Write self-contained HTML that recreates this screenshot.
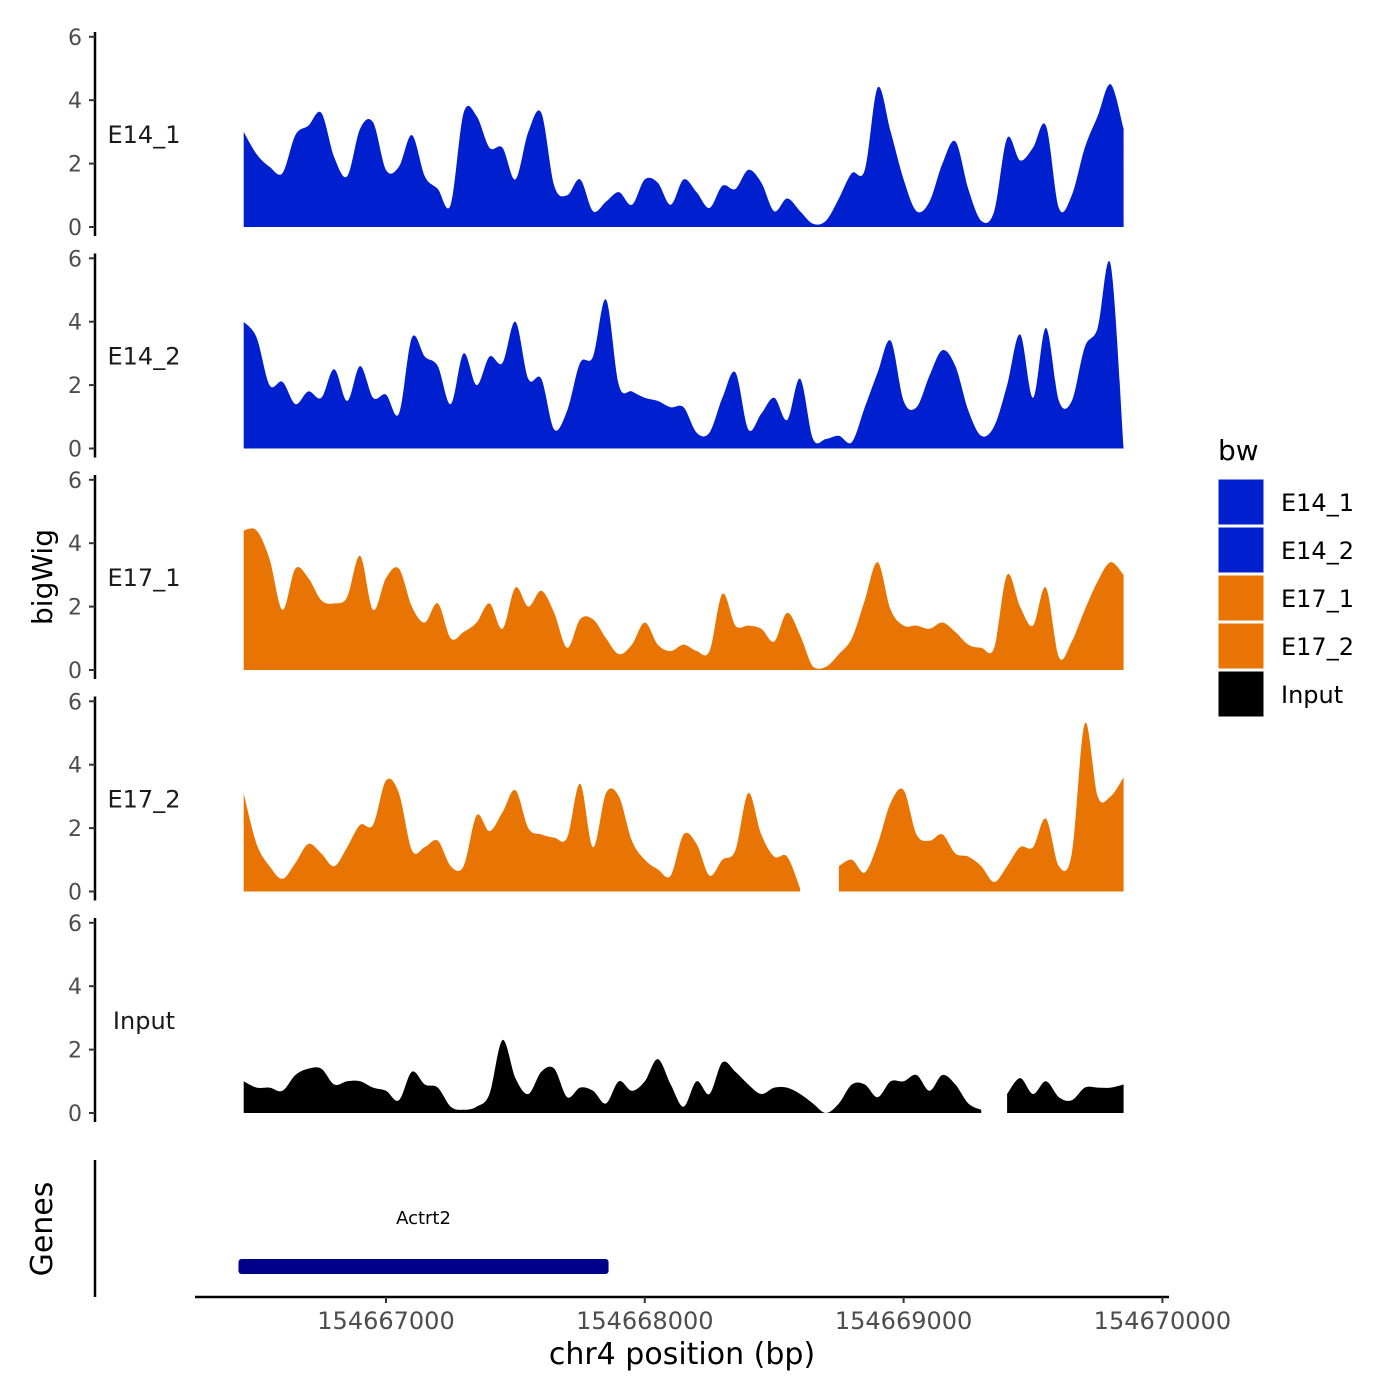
<!DOCTYPE html>
<html><head><meta charset="utf-8"><style>
html,body{margin:0;padding:0;background:#fff;}
svg{display:block;font-family:"DejaVu Sans","Liberation Sans",sans-serif;}
</style></head><body>
<svg id="chart" width="1400" height="1400" viewBox="0 0 1400 1400"></svg>
<script>
const tracks = ["E14_1","E14_2","E17_1","E17_2","Input"];
const trackColors = ["#0020CF","#0020CF","#E87503","#E87503","#000000"];
const positionStart = 154666450;
const positionStep = 50;
const e14_1 = [3.0,2.3,1.9,1.7,2.9,3.2,3.6,2.2,1.6,3.1,3.3,1.8,1.9,2.9,1.6,1.2,0.7,3.6,3.5,2.5,2.5,1.5,3.0,3.6,1.3,1.0,1.5,0.5,0.8,1.1,0.7,1.5,1.4,0.7,1.5,1.1,0.6,1.3,1.2,1.8,1.4,0.5,0.9,0.5,0.1,0.2,0.9,1.7,1.8,4.4,3.0,1.5,0.5,0.8,2.0,2.7,1.2,0.2,0.5,2.8,2.1,2.5,3.2,0.6,1.0,2.5,3.5,4.5,3.1];
const e14_2 = [4.0,3.5,2.0,2.1,1.4,1.8,1.6,2.5,1.5,2.6,1.6,1.7,1.1,3.5,2.9,2.6,1.4,3.0,2.0,2.9,2.7,4.0,2.2,2.2,0.6,1.2,2.7,2.9,4.7,2.0,1.8,1.6,1.5,1.3,1.3,0.5,0.5,1.6,2.4,0.6,1.1,1.6,0.9,2.2,0.3,0.3,0.4,0.2,1.3,2.4,3.4,1.5,1.3,2.3,3.1,2.6,1.2,0.4,0.7,2.0,3.6,1.6,3.8,1.5,1.5,3.2,3.8,5.8,0.0];
const e17_1 = [4.4,4.4,3.5,1.9,3.2,2.9,2.2,2.1,2.3,3.6,1.9,2.9,3.2,2.0,1.5,2.1,1.0,1.2,1.5,2.1,1.3,2.6,2.0,2.5,1.8,0.7,1.6,1.6,1.0,0.5,0.8,1.5,0.8,0.6,0.8,0.6,0.6,2.4,1.4,1.4,1.3,0.9,1.8,1.1,0.1,0.1,0.5,1.0,2.2,3.4,1.9,1.4,1.4,1.3,1.5,1.2,0.8,0.7,0.7,3.0,2.0,1.4,2.6,0.4,0.9,1.9,2.8,3.4,3.0];
const e17_2 = [3.1,1.5,0.8,0.4,0.9,1.5,1.2,0.8,1.4,2.1,2.1,3.5,3.1,1.3,1.4,1.6,0.8,0.8,2.4,1.9,2.5,3.2,2.0,1.8,1.7,1.7,3.4,1.4,3.1,3.0,1.6,1.0,0.7,0.5,1.8,1.5,0.5,1.0,1.3,3.1,1.8,1.1,1.1,0.1,null,null,0.8,1.0,0.6,1.5,2.8,3.2,1.8,1.6,1.8,1.2,1.1,0.8,0.3,0.8,1.4,1.4,2.3,0.8,1.2,5.3,3.0,3.0,3.6];
const input = [1.0,0.8,0.8,0.7,1.2,1.4,1.4,0.9,1.0,1.0,0.8,0.7,0.4,1.3,0.9,0.8,0.2,0.1,0.2,0.6,2.3,1.1,0.6,1.3,1.4,0.5,0.8,0.7,0.3,1.0,0.7,1.0,1.7,0.9,0.2,1.0,0.6,1.6,1.3,0.9,0.6,0.8,0.8,0.6,0.3,0.0,0.3,0.9,0.9,0.5,1.0,1.0,1.2,0.7,1.2,0.9,0.3,0.1,null,0.6,1.1,0.6,1.0,0.5,0.4,0.8,0.8,0.8,0.9];
const yTicks = [0,2,4,6];
const xTicks = [154667000,154668000,154669000,154670000];
const genes = [{name:"Actrt2", start:154666430, end:154667860}];

const seriesList = [e14_1,e14_2,e17_1,e17_2,input];
const NS = "http://www.w3.org/2000/svg";
const svg = document.getElementById("chart");
function mk(tag, attrs, parent){const e=document.createElementNS(NS,tag);for(const k in attrs)e.setAttribute(k,attrs[k]);(parent||svg).appendChild(e);return e;}
const xScale = bp => 386 + (bp - 154667000) * 0.2588;
const panelZero = i => 227 + i * 221.5;
const yScale = (i, v) => panelZero(i) - v * 31.7;

function smoothPath(pts, y0){
  let d = "M" + pts[0][0].toFixed(1) + "," + y0 + " L" + pts[0][0].toFixed(1) + "," + pts[0][1].toFixed(1);
  for (let k = 0; k < pts.length - 1; k++) {
    const p0 = pts[k-1] || pts[k], p1 = pts[k], p2 = pts[k+1], p3 = pts[k+2] || pts[k+1];
    const c1x = p1[0] + (p2[0]-p0[0])/6, c1y = Math.min(y0, p1[1] + (p2[1]-p0[1])/6);
    const c2x = p2[0] - (p3[0]-p1[0])/6, c2y = Math.min(y0, p2[1] - (p3[1]-p1[1])/6);
    d += " C" + c1x.toFixed(1)+","+c1y.toFixed(1)+" "+c2x.toFixed(1)+","+c2y.toFixed(1)+" "+p2[0].toFixed(1)+","+p2[1].toFixed(1);
  }
  d += " L" + pts[pts.length-1][0].toFixed(1) + "," + y0 + " Z";
  return d;
}

tracks.forEach((name, i) => {
  const g = mk("g", {});
  
  
  const y0 = panelZero(i);
  const axis = mk("line", {x1:95,x2:95,y1:y0-195,y2:y0+9,stroke:"#000","stroke-width":2.5}, g);
  
  
  yTicks.forEach(t => {
    const y = yScale(i, t);
    mk("line", {x1:89,x2:95,y1:y,y2:y,stroke:"#333","stroke-width":2}, g);
    const tx = mk("text", {x:82,y:y+8,"text-anchor":"end","font-size":22,fill:"#4d4d4d"}, g);
    tx.textContent = t;
    
    
  });
  const lab = mk("text", {x:144,y:y0-84,"text-anchor":"middle","font-size":24,fill:"#1a1a1a"}, g);
  lab.textContent = name;
  
  
  const vals = seriesList[i];
  let seg = [];
  const flush = () => {
    if (seg.length > 1) {
      const p = mk("path", {d:smoothPath(seg, y0), fill:trackColors[i]}, g);
      
      
    }
    seg = [];
  };
  vals.forEach((v, k) => {
    if (v === null) { flush(); return; }
    seg.push([xScale(positionStart + k * positionStep), yScale(i, v)]);
  });
  flush();
});

const gAxis = mk("line", {x1:95,x2:95,y1:1160,y2:1297,stroke:"#000","stroke-width":2.5});


genes.forEach(gn => {
  const x1 = xScale(gn.start), x2 = xScale(gn.end);
  const r = mk("rect", {x:x1,y:1259,width:x2-x1,height:15,rx:3,fill:"#00008B"});
  
  
  const t = mk("text", {x:(x1+x2)/2,y:1224,"text-anchor":"middle","font-size":18,fill:"#000"});
  t.textContent = gn.name;
  
  
});

const xAxis = mk("line", {x1:195,x2:1169,y1:1297,y2:1297,stroke:"#000","stroke-width":2.5});


xTicks.forEach(t => {
  const x = xScale(t);
  mk("line", {x1:x,x2:x,y1:1297,y2:1303,stroke:"#333","stroke-width":2});
  const tx = mk("text", {x:x,y:1329,"text-anchor":"middle","font-size":24,fill:"#4d4d4d"});
  tx.textContent = t;
  
  
});
const xt = mk("text", {x:682,y:1364,"text-anchor":"middle","font-size":30,fill:"#000"});
xt.textContent = "chr4 position (bp)";


const yt = mk("text", {x:0,y:0,"text-anchor":"middle","font-size":28,fill:"#000",transform:"translate(52,577) rotate(-90)"});
yt.textContent = "bigWig";


const gt = mk("text", {x:0,y:0,"text-anchor":"middle","font-size":30,fill:"#000",transform:"translate(52,1229) rotate(-90)"});
gt.textContent = "Genes";



const lt = mk("text", {x:1218,y:460,"font-size":28,fill:"#000"});
lt.textContent = "bw";


tracks.forEach((name, i) => {
  const y = 479 + i * 48;
  const k = mk("rect", {x:1218,y:y,width:46,height:46,fill:trackColors[i],stroke:"#fff","stroke-width":1});
  
  
  const t = mk("text", {x:1281,y:y+32,"font-size":24,fill:"#000"});
  t.textContent = name;
  
  
});
</script>
</body></html>
